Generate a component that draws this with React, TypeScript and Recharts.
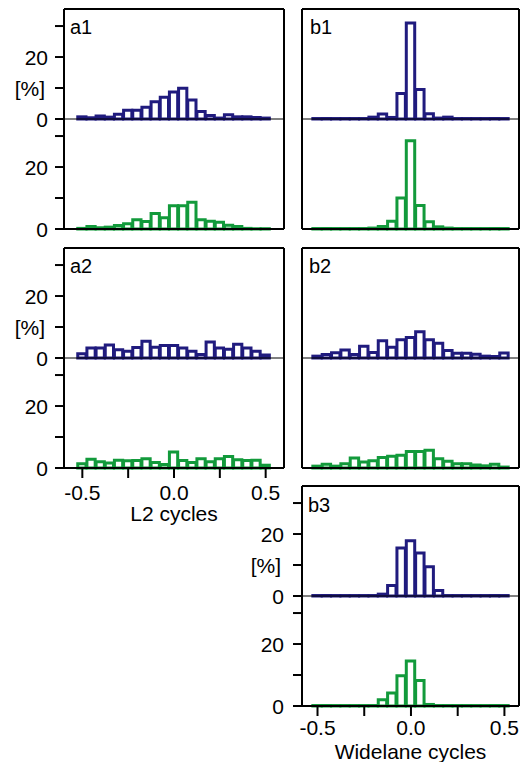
import { BarChart, Bar, XAxis, YAxis, ReferenceLine } from "recharts";

// bin centres (cycles), shared by every histogram
const BIN_CENTERS = [
  -0.5, -0.45, -0.4, -0.35, -0.3, -0.25, -0.2, -0.15, -0.1, -0.05, 0,
  0.05, 0.1, 0.15, 0.2, 0.25, 0.3, 0.35, 0.4, 0.45, 0.5,
];

// percentages per bin
const a1Blue = [0.7, 0.4, 1.0, 0.6, 1.5, 2.8, 2.8, 3.8, 5.6, 7.0, 8.7, 9.9, 6.1, 2.4, 1.1, 0.3, 1.4, 0.7, 0.7, 0.5, 0.3];
const a1Green = [0.2, 0.8, 0.4, 0.6, 1.1, 1.7, 3.0, 2.4, 5.0, 3.6, 7.5, 7.5, 8.6, 3.0, 2.5, 2.2, 1.2, 0.8, 0.2, 0.1, 0.1];
const a2Blue = [1.4, 3.2, 3.2, 4.2, 2.7, 2.2, 3.4, 5.4, 3.5, 4.0, 4.0, 3.2, 2.2, 1.1, 5.2, 3.2, 2.8, 4.4, 3.2, 2.2, 1.0];
const a2Green = [1.4, 2.8, 2.0, 1.6, 2.5, 2.3, 2.4, 3.0, 1.8, 1.1, 5.2, 2.4, 1.8, 3.0, 2.0, 3.0, 3.7, 2.7, 2.4, 2.5, 0.9];
const b1Blue = [0.15, 0.15, 0.15, 0.15, 0.15, 0.15, 0.6, 1.6, 0.5, 8.2, 31.0, 9.5, 1.7, 0.3, 0.6, 0.15, 0.15, 0.15, 0.15, 0.15, 0.15];
const b1Green = [0.15, 0.15, 0.15, 0.15, 0.15, 0.15, 0.3, 0.8, 2.5, 10.0, 28.5, 7.6, 2.3, 0.7, 0.3, 0.15, 0.15, 0.15, 0.15, 0.15, 0.15];
const b2Blue = [0.6, 1.1, 1.7, 2.6, 1.1, 3.8, 1.8, 5.6, 3.5, 5.9, 6.6, 8.5, 5.9, 4.8, 2.4, 1.5, 1.5, 1.2, 0.6, 0.5, 1.6];
const b2Green = [0.6, 1.2, 0.6, 1.4, 3.2, 1.9, 2.3, 3.4, 3.8, 4.1, 5.3, 5.3, 5.7, 3.0, 2.2, 1.4, 1.4, 1.0, 0.7, 1.2, 0.3];
const b3Blue = [0.15, 0.15, 0.15, 0.15, 0.15, 0.15, 0.15, 0.6, 3.4, 15.5, 17.8, 13.9, 9.4, 1.8, 0.15, 0.15, 0.15, 0.15, 0.15, 0.15, 0.15];
const b3Green = [0.15, 0.15, 0.15, 0.15, 0.15, 0.15, 0.15, 2.0, 4.2, 9.8, 14.5, 8.2, 0.5, 0.15, 0.15, 0.15, 0.15, 0.15, 0.15, 0.15, 0.15];

const X_TICKS = [-0.5, -0.25, 0, 0.25, 0.5];
const Y_TICKS = [0, 10, 20, 30];
const Y_MAX = 35.5;
const BIN_WIDTH = 0.05;

const BLUE = "#201b7e";
const GREEN = "#129a3b";
const FONT = "'Liberation Sans', Arial, sans-serif";
const Y_AXIS_W = 64;

const LEFT_COL = { plotLeft: 64, plotW: 220, domain: [-0.6, 0.6] as [number, number] };
const RIGHT_COL = { plotLeft: 302, plotW: 217, domain: [-0.583, 0.578] as [number, number] };

const fmtX = (v: number) => (v === 0 ? "0.0" : Math.abs(v) === 0.5 ? v.toFixed(1) : "");

const yTick = (labels: Record<number, string>) => (props: any) => {
  const { x, y, payload } = props;
  const s = labels[payload.value];
  if (!s) return <g />;
  return (
    <text x={s === "[%]" ? x - 3 : x} y={y} dy="0.36em" textAnchor="end" fontSize={21} fill="#000">
      {s}
    </text>
  );
};

interface SubProps {
  col: typeof LEFT_COL;
  top: number;
  values: number[];
  color: string;
  upper?: boolean;
  yLabels?: Record<number, string>;
  yTickMargin?: number;
  xTicks?: boolean;
  xLabels?: boolean;
  xTitle?: string;
  xTickMargin?: number;
}

const PLOT_H = 110;

function Sub({ col, top, values, color, upper, yLabels, yTickMargin = 7, xTicks, xLabels, xTitle, xTickMargin = 7 }: SubProps) {
  const data = BIN_CENTERS.map((x, i) => ({ x, v: values[i] }));
  const marginTop = upper ? 2 : 0;
  // upper halves get a little room below so the "0" label is not clipped
  const axisH = upper ? 1 : xTitle ? 57 : 12;
  const marginBottom = upper ? 12 : 0;
  const width = Y_AXIS_W + col.plotW + 2;
  const height = marginTop + PLOT_H + axisH + marginBottom;
  const barSize = (col.plotW * BIN_WIDTH) / (col.domain[1] - col.domain[0]);

  return (
    <div style={{ position: "absolute", left: col.plotLeft - Y_AXIS_W, top: top - marginTop }}>
      <BarChart
        width={width}
        height={height}
        data={data}
        margin={{ top: marginTop, right: 2, bottom: marginBottom, left: 0 }}
        barCategoryGap={0}
        barGap={0}
      >
        <XAxis
          dataKey="x"
          type="number"
          domain={col.domain}
          ticks={X_TICKS}
          interval={0}
          height={axisH}
          axisLine={{ stroke: "#000", strokeWidth: upper ? 1 : 2 }}
          tickLine={xTicks ? { stroke: "#000", strokeWidth: 2 } : false}
          tickSize={10}
          tickMargin={xTickMargin}
          tick={xLabels ? { fontSize: 21, fill: "#000" } : false}
          tickFormatter={fmtX}
          label={
            xTitle
              ? { value: xTitle, position: "insideBottom", offset: 4, fontSize: 21, fill: "#000" }
              : undefined
          }
        />
        <YAxis
          type="number"
          domain={[0, Y_MAX]}
          ticks={Y_TICKS}
          interval={0}
          width={Y_AXIS_W}
          axisLine={{ stroke: "#000", strokeWidth: 2 }}
          tickLine={{ stroke: "#000", strokeWidth: 2 }}
          tickSize={9}
          tickMargin={yTickMargin}
          tick={yLabels ? yTick(yLabels) : false}
        />
        <Bar
          dataKey="v"
          fill="#fff"
          stroke={color}
          strokeWidth={3}
          barSize={barSize}
          isAnimationActive={false}
        />
        {upper && <ReferenceLine y={Y_MAX} stroke="#000" strokeWidth={2} />}
        <ReferenceLine x={col.domain[1]} stroke="#000" strokeWidth={2} />
      </BarChart>
    </div>
  );
}

const PanelLabel = ({ text, left, top }: { text: string; left: number; top: number }) => (
  <div style={{ position: "absolute", left, top, fontSize: 20, lineHeight: "20px", color: "#000" }}>{text}</div>
);

const UPPER_LABELS = { 0: "0", 10: "[%]", 20: "20" };
const LOWER_LABELS = { 0: "0", 20: "20" };

export default function App() {
  return (
    <div
      style={{
        position: "absolute",
        left: 0,
        top: 0,
        width: 520,
        height: 762,
        background: "#fff",
        fontFamily: FONT,
        overflow: "hidden",
      }}
    >
      {/* a1 */}
      <Sub col={LEFT_COL} top={9} values={a1Blue} color={BLUE} upper yLabels={UPPER_LABELS} />
      <Sub col={LEFT_COL} top={119} values={a1Green} color={GREEN} yLabels={LOWER_LABELS} xTicks />
      {/* a2 */}
      <Sub col={LEFT_COL} top={248} values={a2Blue} color={BLUE} upper yLabels={UPPER_LABELS} />
      <Sub
        col={LEFT_COL}
        top={358}
        values={a2Green}
        color={GREEN}
        yLabels={LOWER_LABELS}
        xTicks
        xLabels
        xTitle="L2 cycles"
      />
      {/* b1 */}
      <Sub col={RIGHT_COL} top={9} values={b1Blue} color={BLUE} upper />
      <Sub col={RIGHT_COL} top={119} values={b1Green} color={GREEN} xTicks />
      {/* b2 */}
      <Sub col={RIGHT_COL} top={248} values={b2Blue} color={BLUE} upper />
      <Sub col={RIGHT_COL} top={358} values={b2Green} color={GREEN} xTicks />
      {/* b3 */}
      <Sub col={RIGHT_COL} top={486} values={b3Blue} color={BLUE} upper yLabels={UPPER_LABELS} yTickMargin={9} />
      <Sub
        col={RIGHT_COL}
        top={596}
        values={b3Green}
        color={GREEN}
        yLabels={LOWER_LABELS}
        yTickMargin={9}
        xTicks
        xLabels
        xTickMargin={4}
        xTitle="Widelane cycles"
      />

      <PanelLabel text="a1" left={70} top={17} />
      <PanelLabel text="b1" left={310} top={17} />
      <PanelLabel text="a2" left={70} top={256} />
      <PanelLabel text="b2" left={309} top={256} />
      <PanelLabel text="b3" left={308} top={495} />
    </div>
  );
}
